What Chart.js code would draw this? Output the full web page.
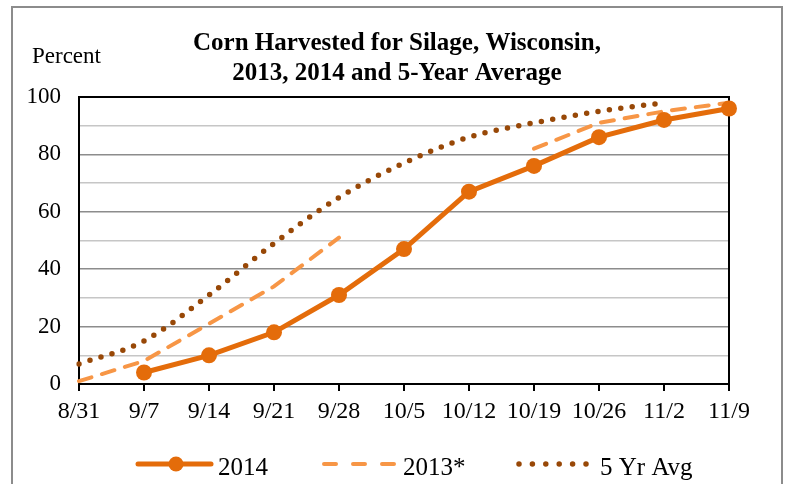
<!DOCTYPE html>
<html>
<head>
<meta charset="utf-8">
<script src="https://cdn.jsdelivr.net/npm/chart.js@4/dist/chart.umd.min.js"></script>
<style>
  html, body { margin: 0; padding: 0; background: #ffffff; }
  #wrap { position: relative; width: 788px; height: 484px; }
</style>
</head>
<body>
<div id="wrap"><canvas id="c" width="788" height="484"></canvas></div>
<script>
// ---- data ----
const categories = ['8/31','9/7','9/14','9/21','9/28','10/5','10/12','10/19','10/26','11/2','11/9'];
const pct2014 = [null, 4, 10, 18, 31, 47, 67, 76, 86, 92, 96];
const pct2013 = [1, 8, 21, 34, 51, null, null, 82, 91, 95, 98];
const avg5yr  = [7, 15, 31, 49, 65, 77, 86, 91, 95, 98, null];
const yTicks = [0, 20, 40, 60, 80, 100];
const titleLines = ['Corn Harvested for Silage, Wisconsin,', '2013, 2014 and 5-Year Average'];
const yAxisTitle = 'Percent';
const seriesNames = ['2014', '2013*', '5 Yr Avg'];

const C2014 = '#E46C0A';
const C2013 = '#F79646';
const C5YR  = '#984807';
const SERIF = '"Liberation Serif", "Times New Roman", serif';

const decor = {
  id: 'decor',
  beforeDraw(chart) {
    const ctx = chart.ctx;
    ctx.save();
    ctx.fillStyle = '#fff';
    ctx.fillRect(0, 0, chart.width, chart.height);
    ctx.strokeStyle = '#8c8c8c';
    ctx.lineWidth = 2;
    ctx.strokeRect(12, 7, 770, 520);
    ctx.restore();
  },
  beforeDatasetsDraw(chart) {
    const ctx = chart.ctx, a = chart.chartArea;
    ctx.save();
    ctx.strokeStyle = '#000';
    ctx.lineWidth = 2;
    ctx.strokeRect(a.left, a.top, a.right - a.left, a.bottom - a.top);
    ctx.restore();
  },
  afterDraw(chart) {
    const ctx = chart.ctx;
    ctx.save();
    // title
    ctx.fillStyle = '#000';
    ctx.textAlign = 'center';
    ctx.textBaseline = 'alphabetic';
    ctx.font = 'bold 25px ' + SERIF;
    ctx.fillText(titleLines[0], 397, 50);
    ctx.fillText(titleLines[1], 397, 80);
    // axis title
    ctx.textAlign = 'left';
    ctx.font = '23px ' + SERIF;
    ctx.fillText(yAxisTitle, 32, 63);
    // legend
    const ly = 464, tb = 475;
    ctx.font = '25px ' + SERIF;
    // 2014
    ctx.strokeStyle = C2014; ctx.lineWidth = 5; ctx.lineCap = 'round'; ctx.setLineDash([]);
    ctx.beginPath(); ctx.moveTo(138, ly); ctx.lineTo(211, ly); ctx.stroke();
    ctx.fillStyle = C2014;
    ctx.beginPath(); ctx.arc(176, ly, 7.5, 0, Math.PI * 2); ctx.fill();
    ctx.fillStyle = '#000';
    ctx.fillText(seriesNames[0], 218, tb);
    // 2013
    ctx.strokeStyle = C2013; ctx.lineWidth = 4; ctx.lineCap = 'round'; ctx.setLineDash([12, 17]);
    ctx.beginPath(); ctx.moveTo(324, ly); ctx.lineTo(396, ly); ctx.stroke();
    ctx.fillText(seriesNames[1], 403, tb);
    // 5 yr
    ctx.strokeStyle = C5YR; ctx.lineWidth = 5.5; ctx.lineCap = 'round'; ctx.setLineDash([0, 13.4]);
    ctx.beginPath(); ctx.moveTo(519, ly); ctx.lineTo(587, ly); ctx.stroke();
    ctx.setLineDash([]);
    ctx.fillText(seriesNames[2], 600, tb);
    ctx.restore();
  }
};

new Chart(document.getElementById('c'), {
  type: 'line',
  data: {
    labels: categories,
    datasets: [
      {
        label: seriesNames[0], data: pct2014,
        borderColor: C2014, backgroundColor: C2014,
        borderWidth: 5, tension: 0,
        pointRadius: 8, pointBorderWidth: 0, pointBackgroundColor: C2014,
        clip: false, order: 1
      },
      {
        label: seriesNames[1], data: pct2013,
        borderColor: C2013, borderWidth: 4, borderDash: [13, 11],
        borderCapStyle: 'round', tension: 0, pointRadius: 0, spanGaps: false, order: 2
      },
      {
        label: seriesNames[2], data: avg5yr,
        borderColor: C5YR, borderWidth: 5.5, borderDash: [0, 11.5],
        borderCapStyle: 'round', cubicInterpolationMode: 'monotone',
        pointRadius: 0, order: 3
      }
    ]
  },
  options: {
    responsive: false,
    animation: false,
    devicePixelRatio: 1,
    layout: { padding: { top: 97, right: 59, bottom: 0, left: 0 } },
    plugins: {
      legend: { display: false },
      title: { display: false },
      tooltip: { enabled: false }
    },
    scales: {
      x: {
        offset: false,
        afterFit(s) { s.height = 100; },
        grid: { drawOnChartArea: false, drawTicks: true, tickLength: 7, color: '#000', lineWidth: 2 },
        border: { display: true, color: '#000', width: 2 },
        ticks: { color: '#000', font: { family: SERIF, size: 24 }, padding: 6, maxRotation: 0, autoSkip: false }
      },
      y: {
        min: 0, max: 100,
        afterFit(s) { s.width = 79; },
        afterBuildTicks(s) {
          const t = [];
          for (let v = 0; v <= 100; v += 10) t.push({ value: v });
          s.ticks = t;
        },
        grid: {
          drawTicks: false,
          color: (c) => (c.tick && c.tick.value % 20 === 0) ? '#8c8c8c' : '#c6c6c6',
          lineWidth: 1.5
        },
        border: { display: true, color: '#000', width: 2 },
        ticks: {
          autoSkip: false,
          color: '#000', font: { family: SERIF, size: 23 }, padding: 18,
          callback: (v) => yTicks.includes(v) ? String(v) : ''
        }
      }
    }
  },
  plugins: [decor]
});
</script>
</body>
</html>
